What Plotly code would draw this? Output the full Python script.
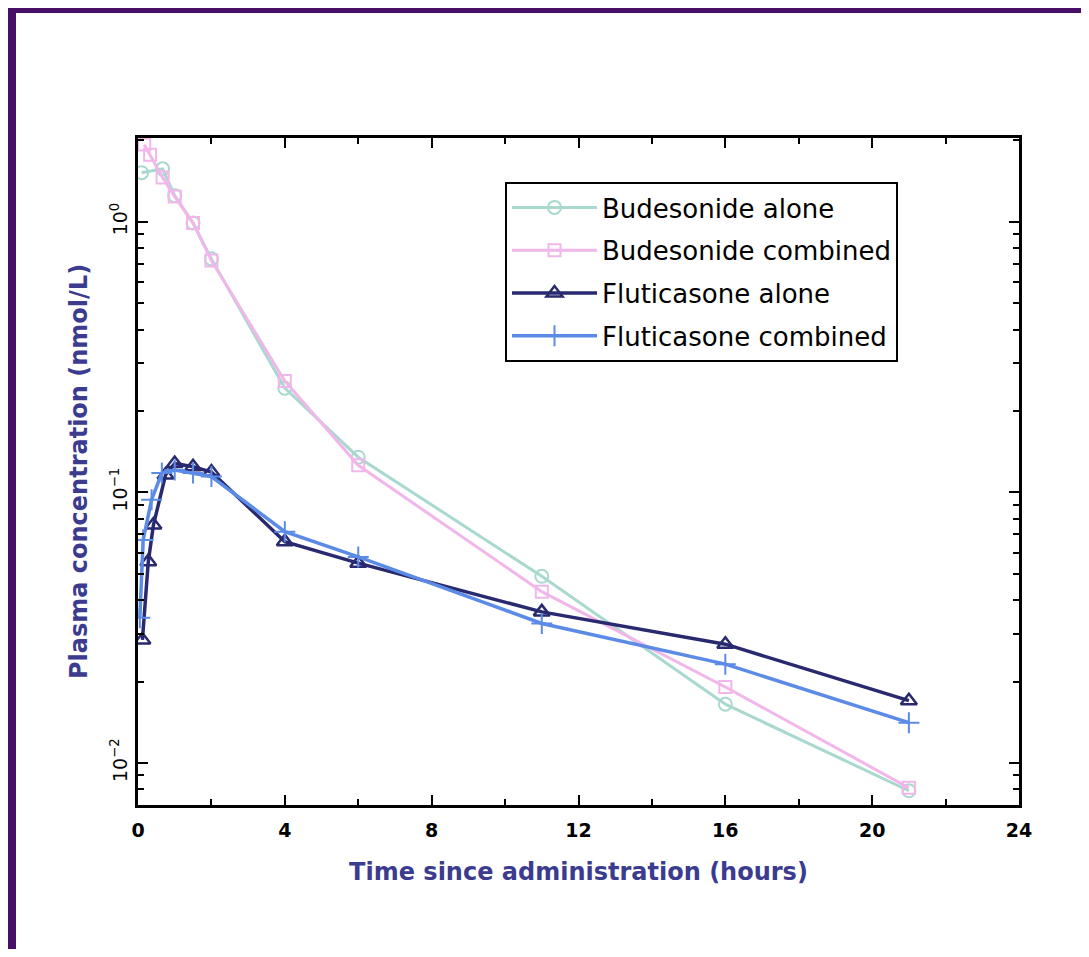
import plotly.graph_objects as go

# ---- data ----
bud_alone_t = [0.1, 0.67, 1.0, 1.5, 2.0, 4.0, 6.0, 11.0, 16.0, 21.0]
bud_alone_v = [1.52, 1.57, 1.25, 0.99, 0.73, 0.243, 0.135, 0.049, 0.0165, 0.0079]

bud_comb_t = [0.17, 0.33, 0.67, 1.0, 1.5, 2.0, 4.0, 6.0, 11.0, 16.0, 21.0]
bud_comb_v = [1.93, 1.77, 1.46, 1.24, 0.99, 0.72, 0.258, 0.126, 0.043, 0.0191, 0.0081]

flu_alone_t = [0.12, 0.28, 0.42, 0.75, 1.0, 1.5, 2.0, 4.0, 6.0, 11.0, 16.0, 21.0]
flu_alone_v = [0.0285, 0.0555, 0.0758, 0.116, 0.128, 0.1245, 0.119, 0.0658, 0.0548, 0.0362, 0.0275, 0.0170]

flu_comb_t = [0.05, 0.14, 0.37, 0.65, 1.0, 1.5, 2.0, 4.0, 6.0, 11.0, 16.0, 21.0]
flu_comb_v = [0.0344, 0.0667, 0.094, 0.118, 0.121, 0.118, 0.1145, 0.0716, 0.0578, 0.0328, 0.0232, 0.0141]

series_names = ["Budesonide alone", "Budesonide combined", "Fluticasone alone", "Fluticasone combined"]

x_ticks = [0, 4, 8, 12, 16, 20, 24]
x_minor = [2, 6, 10, 14, 18, 22]
y_ticks = [0.01, 0.1, 1.0]
y_ticktext = ["10<sup>−2</sup>", "10<sup>−1</sup>", "10<sup>0</sup>"]
y_minor = [m * d for d in (0.001, 0.01, 0.1, 1.0) for m in range(2, 10)]

x_title = "Time since administration (hours)"
y_title = "Plasma concentration (nmol/L)"

# ---- layout geometry (page has an 8px body margin) ----
OFF = 8
W, H = 1089 - 2 * OFF, 957 - 2 * OFF
PLOT_L, PLOT_R, PLOT_T, PLOT_B = 138, 1019, 138, 805   # page pixels of the plot area
L, T = PLOT_L - OFF, PLOT_T - OFF
PW, PH = PLOT_R - PLOT_L, PLOT_B - PLOT_T
R, B = W - L - PW, H - T - PH

c_bud_alone = "#a9d8cf"
c_bud_comb = "#f1b6ea"
c_flu_alone = "#28296f"
c_flu_comb = "#5b8be6"
purple = "#470f66"
title_col = "#3b3b90"

fig = go.Figure()

specs = [
    (bud_alone_t, bud_alone_v, series_names[0], c_bud_alone, "circle-open", 3, 13, 2),
    (bud_comb_t, bud_comb_v, series_names[1], c_bud_comb, "square-open", 3, 12, 2),
    (flu_alone_t, flu_alone_v, series_names[2], c_flu_alone, "triangle-up-open", 3.5, 14, 2.5),
    (flu_comb_t, flu_comb_v, series_names[3], c_flu_comb, "cross-thin-open", 3.5, 15, 2),
]
for i, (t, v, name, col, sym, lw, ms, mw) in enumerate(specs):
    fig.add_trace(go.Scatter(
        x=t, y=v, name=name, mode="lines+markers",
        line=dict(color=col, width=lw),
        marker=dict(symbol=sym, size=ms, color=col, line=dict(color=col, width=mw)),
        legendgroup=f"g{i}",
    ))

axis_font = dict(family="DejaVu Sans", size=19, color="black", weight="bold")
title_font = dict(family="DejaVu Sans", size=24, color=title_col, weight="bold")

fig.update_xaxes(
    range=[0, 24], tickvals=x_ticks, ticks="inside", ticklen=10, tickwidth=2,
    tickcolor="black", showline=True, linecolor="black", linewidth=3, mirror="ticks",
    showgrid=False, zeroline=False, tickfont=axis_font, ticklabelstandoff=6,
    minor=dict(tickvals=x_minor, ticks="inside", ticklen=6, tickwidth=2, tickcolor="black", showgrid=False),
    title=dict(text=x_title, font=title_font, standoff=24),
)
fig.update_yaxes(
    type="log", range=[-2.155, 0.31], tickvals=y_ticks, ticktext=y_ticktext, tickangle=-90,
    ticks="inside", ticklen=10, tickwidth=2, tickcolor="black",
    showline=True, linecolor="black", linewidth=3, mirror="ticks",
    showgrid=False, zeroline=False, tickfont=dict(family="DejaVu Sans", size=19, color="black"),
    minor=dict(tickvals=y_minor, ticks="inside", ticklen=6, tickwidth=2, tickcolor="black", showgrid=False),
    title=dict(text=y_title, font=title_font, standoff=14),
)

# page pixel -> paper coords
def px2x(p):
    return (p - PLOT_L) / PW

def py2y(p):
    return (PLOT_B - p) / PH

# purple frame strips along the top and left edges of the figure
fig.add_shape(type="rect", xref="paper", yref="paper", x0=px2x(OFF), x1=px2x(OFF + W), y0=py2y(OFF), y1=py2y(OFF + 5),
              fillcolor=purple, line=dict(width=0), layer="above")
fig.add_shape(type="rect", xref="paper", yref="paper", x0=px2x(OFF), x1=px2x(OFF + 8), y0=py2y(OFF), y1=py2y(OFF + H),
              fillcolor=purple, line=dict(width=0), layer="above")

fig.update_layout(
    width=W, height=H,
    margin=dict(l=L, r=R, t=T, b=B, autoexpand=False),
    paper_bgcolor="white", plot_bgcolor="white",
    font=dict(family="DejaVu Sans", color="black"),
    showlegend=True,
    legend=dict(
        x=px2x(505), y=py2y(182), xanchor="left", yanchor="top",
        bgcolor="white", bordercolor="black", borderwidth=2,
        font=dict(family="DejaVu Sans", size=26, color="black"),
        itemwidth=85, tracegroupgap=6, traceorder="grouped",
    ),
)

fig.write_html("out.html")
